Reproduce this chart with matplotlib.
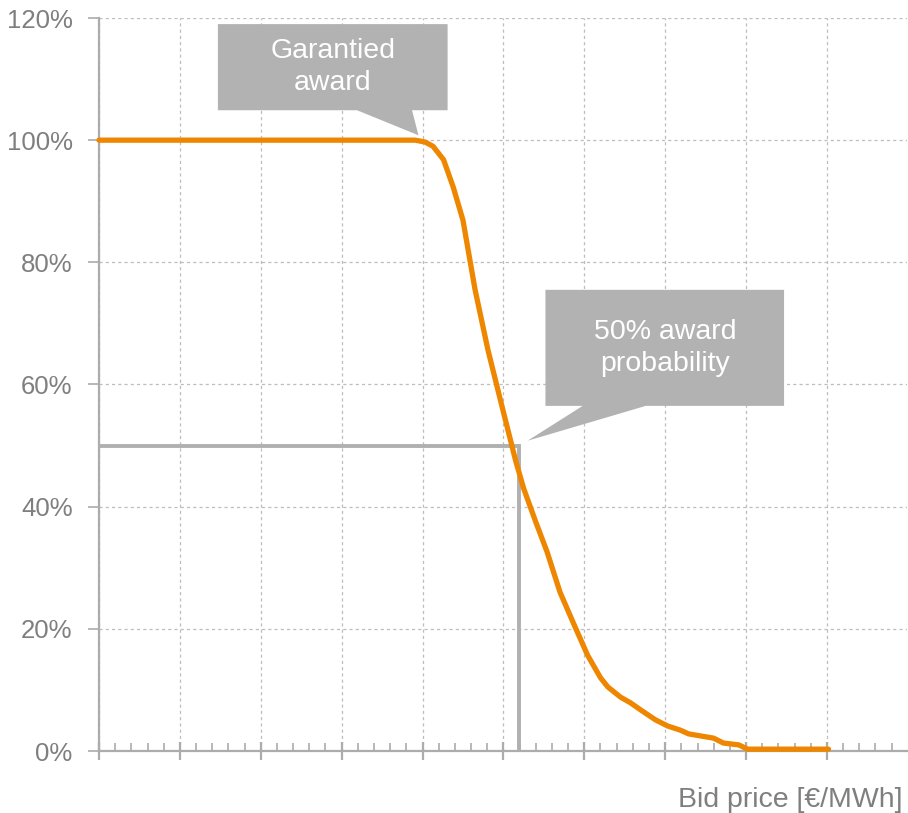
import matplotlib

matplotlib.use("Agg")
import matplotlib.pyplot as plt
from matplotlib.patches import Polygon
from matplotlib.ticker import MultipleLocator, FuncFormatter

plt.rcParams["font.family"] = ["Liberation Sans", "DejaVu Sans"]

# award probability curve (bid price in arbitrary units, probability in %)
bid_price = [0, 3.91, 4.03, 4.13, 4.26, 4.38, 4.50, 4.65, 4.81, 5.0, 5.15, 5.25, 5.40,
             5.54, 5.70, 5.87, 6.04, 6.20, 6.29, 6.45, 6.57, 6.70, 6.88, 7.03,
             7.19, 7.29, 7.60, 7.72, 7.91, 8.02, 9.02]
award_prob = [100, 100, 99.7, 99.0, 96.8, 92.3, 86.9, 75.5, 65.6, 55.5, 47.6, 43.0, 37.5,
              32.6, 26.0, 20.8, 15.7, 12.0, 10.5, 8.8, 7.9, 6.7, 5.1, 4.1,
              3.4, 2.8, 2.1, 1.3, 1.0, 0.3, 0.3]
knee_price = 3.95   # where the guaranteed award ends
price_50 = 5.19     # bid price at 50% award probability

ORANGE = "#EE8600"
GREY = "#acacac"
BOX = "#b2b2b2"
TXT = "#7f7f7f"

fig = plt.figure(figsize=(9.08, 8.13), dpi=100)
ax = fig.add_axes([99 / 908, 62 / 813, 808 / 908, 733 / 813])

ax.set_xlim(0, 9.99)
ax.set_ylim(0, 120)

# grid
ax.xaxis.set_major_locator(MultipleLocator(1))
ax.xaxis.set_minor_locator(MultipleLocator(0.2))
ax.yaxis.set_major_locator(MultipleLocator(20))
ax.grid(True, which="major", color="#bdbdbd", lw=0.9, ls=(0, (2.5, 2.5)))
ax.set_axisbelow(True)

for s in ["top", "right"]:
    ax.spines[s].set_visible(False)
for s in ["left", "bottom"]:
    ax.spines[s].set_color(GREY)
    ax.spines[s].set_linewidth(1.6)

ax.tick_params(axis="x", which="major", direction="inout", length=13, width=1.6,
               color=GREY, labelbottom=False)
ax.tick_params(axis="x", which="minor", direction="in", length=6, width=1.2, color=GREY)
ax.tick_params(axis="y", which="major", direction="out", length=8, width=1.2,
               color=GREY, labelsize=18.5, labelcolor=TXT, pad=11)
ax.yaxis.set_major_formatter(FuncFormatter(lambda v, _: f"{v:.0f}%"))

# 50% guide line
ax.plot([0, price_50, price_50], [50, 50, 0], color="#b0b0b0", lw=2.8,
        solid_joinstyle="miter", zorder=3)

# curve
ax.plot(bid_price, award_prob, color=ORANGE, lw=3.8, solid_capstyle="round",
        solid_joinstyle="round", zorder=4, clip_on=False)


def callout(x0, x1, y0, y1, base0, base1, tip, text):
    pts = [(x0, y1), (x1, y1), (x1, y0), (base1, y0), tip, (base0, y0), (x0, y0)]
    ax.add_patch(Polygon(pts, closed=True, facecolor=BOX, edgecolor="none",
                         zorder=6, clip_on=False))
    ax.text((x0 + x1) / 2, (y0 + y1) / 2, text, ha="center", va="center",
            color="white", fontsize=20.5, linespacing=1.3, zorder=7)


callout(1.47, 4.31, 104.9, 119.0, 3.19, 3.87, (knee_price, 100.8), "Garantied\naward")
callout(5.52, 8.47, 56.5, 75.5, 5.98, 6.76, (price_50 + 0.11, 50.8), "50% award\nprobability")

fig.text(903 / 908, 1 - 800 / 813, "Bid price [€/MWh]", ha="right", va="center",
         fontsize=20.5, color=TXT)

fig.savefig("out.png", dpi=100)
